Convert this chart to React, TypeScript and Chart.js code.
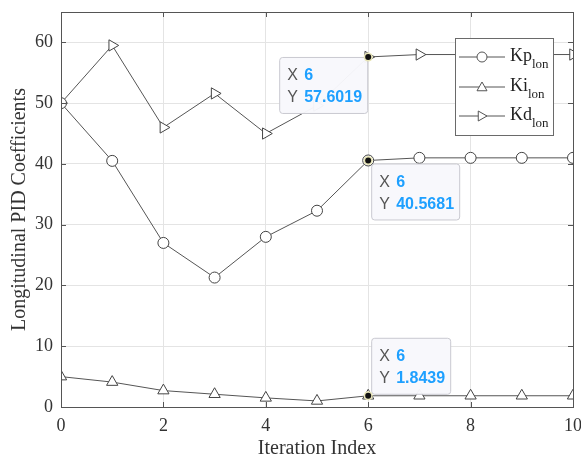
import React, { useEffect, useRef } from "react";
import { Chart, registerables } from "chart.js";

Chart.register(...registerables);

const iterations = [0, 1, 2, 3, 4, 5, 6, 7, 8, 9, 10];
const kpLon = [50, 40.5, 27, 21.3, 28, 32.3, 40.5681, 41, 41, 41, 41];
const kiLon = [5, 4.1, 2.7, 2.1, 1.5, 1.0, 1.8439, 1.85, 1.85, 1.85, 1.85];
const kdLon = [50, 59.5, 46, 51.6, 45, 49.6, 57.6019, 58, 58, 58, 58];
const seriesNames = ["Kp", "Ki", "Kd"];
const seriesSub = "lon";
const yTicks = [0, 10, 20, 30, 40, 50, 60];
const xTicks = [0, 2, 4, 6, 8, 10];
const tips = [
  { series: 2, index: 6, label: "57.6019", place: "left-below" },
  { series: 0, index: 6, label: "40.5681", place: "right-below" },
  { series: 1, index: 6, label: "1.8439", place: "right-above" },
];

const LINE = "#555";
const SERIF = "'Liberation Serif', 'DejaVu Serif', serif";
const SANS = "'Liberation Sans', Arial, sans-serif";

function drawMarker(ctx: CanvasRenderingContext2D, kind: number, x: number, y: number, r: number) {
  ctx.beginPath();
  if (kind === 0) {
    ctx.arc(x, y, r, 0, Math.PI * 2);
  } else if (kind === 1) {
    ctx.moveTo(x, y - r);
    ctx.lineTo(x + r, y + r * 0.75);
    ctx.lineTo(x - r, y + r * 0.75);
    ctx.closePath();
  } else {
    ctx.moveTo(x + r, y);
    ctx.lineTo(x - r * 0.75, y - r);
    ctx.lineTo(x - r * 0.75, y + r);
    ctx.closePath();
  }
  ctx.fillStyle = "#fff";
  ctx.fill();
  ctx.stroke();
}

const overlayPlugin = {
  id: "overlay",
  afterDraw(chart: any) {
    const ctx: CanvasRenderingContext2D = chart.ctx;
    const { left, right, top, bottom } = chart.chartArea;
    const xs = chart.scales.x;
    const ys = chart.scales.y;
    ctx.save();
    ctx.strokeStyle = "#555";
    ctx.lineWidth = 1;
    ctx.strokeRect(Math.round(left) + 0.5, Math.round(top) + 0.5, Math.round(right - left), Math.round(bottom - top));
    ctx.beginPath();
    for (const v of yTicks) {
      const py = Math.round(ys.getPixelForValue(v)) + 0.5;
      ctx.moveTo(left, py); ctx.lineTo(left + 5, py);
      ctx.moveTo(right, py); ctx.lineTo(right - 5, py);
    }
    for (const v of xTicks) {
      const px = Math.round(xs.getPixelForValue(v)) + 0.5;
      ctx.moveTo(px, bottom); ctx.lineTo(px, bottom - 5);
      ctx.moveTo(px, top); ctx.lineTo(px, top + 5);
    }
    ctx.stroke();

    // legend
    const lx = 455, ly = 38, lw = 98, lh = 97;
    ctx.fillStyle = "#fff";
    ctx.fillRect(lx, ly, lw, lh);
    ctx.strokeStyle = "#6a6a6a";
    ctx.strokeRect(lx + 0.5, ly + 0.5, lw, lh);
    const rows = [57, 87, 116];
    rows.forEach((ry, i) => {
      ctx.strokeStyle = LINE;
      ctx.lineWidth = 1;
      ctx.beginPath();
      ctx.moveTo(lx + 4, ry); ctx.lineTo(lx + 50, ry);
      ctx.stroke();
      drawMarker(ctx, i, lx + 27, ry, 5);
      ctx.fillStyle = "#222";
      ctx.textBaseline = "alphabetic";
      ctx.textAlign = "left";
      ctx.font = `18px ${SERIF}`;
      ctx.fillText(seriesNames[i], lx + 55, ry + 4);
      const w = ctx.measureText(seriesNames[i]).width;
      ctx.font = `13px ${SERIF}`;
      ctx.fillText(seriesSub, lx + 55 + w, ry + 11);
    });

    // data tips
    const data = [kpLon, kiLon, kdLon];
    for (const t of tips) {
      const px = xs.getPixelForValue(iterations[t.index]);
      const py = ys.getPixelForValue(data[t.series][t.index]);
      const bw = t.label.length > 6 ? 88 : 79;
      const bh = 56;
      let bx = px + 3, by = py + 3;
      if (t.place === "left-below") { bx = px - bw - 1; by = py; }
      if (t.place === "right-above") { bx = px + 3; by = py - bh - 2; }
      ctx.beginPath();
      (ctx as any).roundRect(bx + 0.5, by + 0.5, bw, bh, 3);
      ctx.fillStyle = "rgba(248,248,252,0.97)";
      ctx.fill();
      ctx.strokeStyle = "#c9c9d0";
      ctx.lineWidth = 1;
      ctx.stroke();
      ctx.font = `16px ${SANS}`;
      ctx.textBaseline = "middle";
      ctx.fillStyle = "#555";
      ctx.fillText("X", bx + 8, by + 19);
      ctx.fillText("Y", bx + 8, by + 41);
      ctx.font = `bold 16px ${SANS}`;
      ctx.fillStyle = "#1ea0ff";
      ctx.fillText(String(iterations[t.index]), bx + 25, by + 19);
      ctx.fillText(t.label, bx + 25, by + 41);
      ctx.beginPath();
      ctx.arc(px, py, 4.5, 0, Math.PI * 2);
      ctx.fillStyle = "#e9e6b8";
      ctx.fill();
      ctx.beginPath();
      ctx.arc(px, py, 3, 0, Math.PI * 2);
      ctx.fillStyle = "#111";
      ctx.fill();
    }
    ctx.restore();
  },
};

export default function App() {
  const ref = useRef<HTMLCanvasElement | null>(null);
  useEffect(() => {
    if (!ref.current) return;
    const mk = (label: string, data: number[], style: any, rot: number) => ({
      label,
      data: iterations.map((x, i) => ({ x, y: data[i] })),
      borderColor: LINE,
      borderWidth: 1,
      pointStyle: style,
      pointRotation: rot,
      pointRadius: style === "circle" ? 5.5 : 6.5,
      pointBackgroundColor: "#fff",
      pointBorderColor: "#444",
      pointBorderWidth: 1,
      tension: 0,
    });
    const chart = new Chart(ref.current, {
      type: "line",
      data: {
        datasets: [
          mk("Kp_lon", kpLon, "circle", 0),
          mk("Ki_lon", kiLon, "triangle", 0),
          mk("Kd_lon", kdLon, "triangle", 90),
        ],
      },
      options: {
        animation: false,
        responsive: false,
        events: [],
        layout: { padding: { top: 12, right: 8, left: 0, bottom: 0 } },
        plugins: { legend: { display: false }, tooltip: { enabled: false } },
        scales: {
          x: {
            type: "linear",
            min: 0,
            max: 10,
            afterBuildTicks: (s: any) => { s.ticks = xTicks.map((v) => ({ value: v })); },
            afterFit: (s: any) => { s.height = 52; s.paddingLeft = 0; s.paddingRight = 0; },
            ticks: { font: { family: SERIF, size: 18 }, color: "#333", padding: 8, maxRotation: 0 },
            grid: { color: "#e4e4e4", drawTicks: false },
            border: { display: false },
            title: { display: true, text: "Iteration Index", font: { family: SERIF, size: 20 }, color: "#333", padding: { top: 0, bottom: -2 } },
          },
          y: {
            type: "linear",
            min: 0,
            max: 65,
            afterBuildTicks: (s: any) => { s.ticks = yTicks.map((v) => ({ value: v })); },
            afterFit: (s: any) => { s.width = 61; s.paddingTop = 0; s.paddingBottom = 0; },
            ticks: { font: { family: SERIF, size: 18 }, color: "#333", padding: 8 },
            grid: { color: "#e4e4e4", drawTicks: false },
            border: { display: false },
            title: { display: true, text: "Longitudinal PID Coefficients", font: { family: SERIF, size: 20 }, color: "#333", padding: { top: 8, bottom: 0 } },
          },
        },
      },
      plugins: [overlayPlugin],
    });
    return () => chart.destroy();
  }, []);
  return (
    <div style={{ position: "fixed", left: 0, top: 0, width: 581, height: 459, background: "#fff" }}>
      <canvas ref={ref} width={581} height={459} style={{ width: 581, height: 459 }} />
    </div>
  );
}
